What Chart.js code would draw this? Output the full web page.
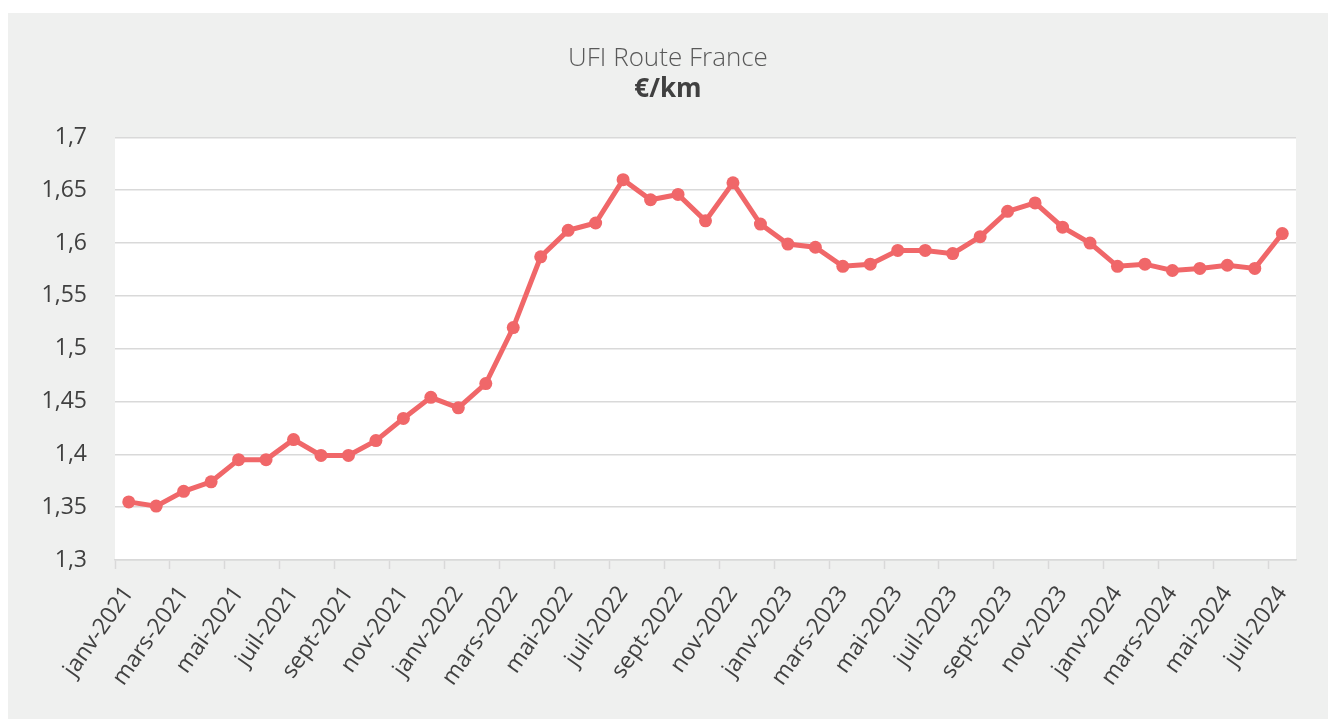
<!DOCTYPE html>
<html>
<head>
<meta charset="utf-8">
<script src="https://cdn.jsdelivr.net/npm/chart.js@4.4.1/dist/chart.umd.min.js"></script>
<style>
  html, body { margin: 0; padding: 0; background: #ffffff; width: 1328px; height: 719px; overflow: hidden; }
  #panel { position: absolute; left: 8px; top: 13px; width: 1320px; height: 706px; background: #eff0ef; }
  #c { position: absolute; left: 32px; top: 0; display: block; }
</style>
</head>
<body>
<div id="panel"><canvas id="c" width="1288" height="706"></canvas></div>
<script>
const months = ['janv', 'févr', 'mars', 'avr', 'mai', 'juin', 'juil', 'août', 'sept', 'oct', 'nov', 'déc'];
const categories = [];
for (let y = 2021; y <= 2024; y++) {
  for (let m = 0; m < 12; m++) {
    if (y === 2024 && m > 6) break;
    categories.push(months[m] + '-' + y);
  }
}
const ufiValues = [
  1.355, 1.351, 1.365, 1.374, 1.395, 1.395, 1.414, 1.399, 1.399, 1.413, 1.434, 1.454,
  1.444, 1.467, 1.520, 1.587, 1.612, 1.619, 1.660, 1.641, 1.646, 1.621, 1.657, 1.618,
  1.599, 1.596, 1.578, 1.580, 1.593, 1.593, 1.590, 1.606, 1.630, 1.638, 1.615, 1.600,
  1.578, 1.580, 1.574, 1.576, 1.579, 1.576, 1.609
];
const yTicks = [1.3, 1.35, 1.4, 1.45, 1.5, 1.55, 1.6, 1.65, 1.7];
const titleText = 'UFI Route France';
const subtitleText = '€/km';

const whiteArea = {
  id: 'whiteArea',
  beforeDraw(chart) {
    const { ctx, chartArea: a } = chart;
    ctx.save();
    ctx.fillStyle = '#ffffff';
    ctx.fillRect(a.left, a.top, a.right - a.left, a.bottom - a.top);
    ctx.restore();
  }
};

new Chart(document.getElementById('c'), {
  type: 'line',
  data: {
    labels: categories,
    datasets: [{
      data: ufiValues,
      borderColor: '#f06769',
      backgroundColor: '#f06769',
      borderWidth: 5,
      pointRadius: 6.5,
      pointHoverRadius: 6.5,
      pointBorderWidth: 0,
      tension: 0
    }]
  },
  options: {
    responsive: false,
    animation: false,
    events: [],
    layout: { padding: { left: 0, right: 32, top: 0, bottom: 0 } },
    plugins: {
      legend: { display: false },
      tooltip: { enabled: false },
      title: {
        display: true,
        text: titleText,
        color: '#595959',
        font: { family: 'Open Sans', size: 26, weight: '300' },
        padding: { top: 30, bottom: 0 }
      },
      subtitle: {
        display: true,
        text: subtitleText,
        color: '#404040',
        font: { family: 'Open Sans', size: 26, weight: 'bold' },
        padding: { top: 0, bottom: 32 }
      }
    },
    scales: {
      x: {
        type: 'category',
        offset: true,
        afterFit(scale) { scale.height = 159; },
        grid: {
          offset: true,
          drawOnChartArea: false,
          drawTicks: true,
          tickLength: 9,
          tickWidth: 1.5,
          tickColor: (ctx) => (ctx.index % 2 === 0 ? '#d9d9d9' : 'rgba(0,0,0,0)')
        },
        border: { display: true, color: '#d9d9d9', width: 1.5 },
        ticks: {
          autoSkip: false,
          minRotation: 55,
          maxRotation: 55,
          padding: 12,
          color: '#404040',
          font: { family: 'Open Sans', size: 23 },
          callback(value, index) { return index % 2 === 0 ? this.getLabelForValue(value) : ''; }
        }
      },
      y: {
        min: yTicks[0],
        max: yTicks[yTicks.length - 1],
        afterFit(scale) { scale.width = 75; },
        afterBuildTicks(scale) { scale.ticks = yTicks.map(v => ({ value: v })); },
        grid: { color: '#d9d9d9', lineWidth: 1.5, drawTicks: false },
        border: { display: false },
        ticks: {
          padding: 28,
          color: '#404040',
          font: { family: 'Open Sans', size: 23 },
          callback(value) { return String(Number(value.toFixed(2))).replace('.', ','); }
        }
      }
    }
  },
  plugins: [whiteArea]
});
</script>
</body>
</html>
